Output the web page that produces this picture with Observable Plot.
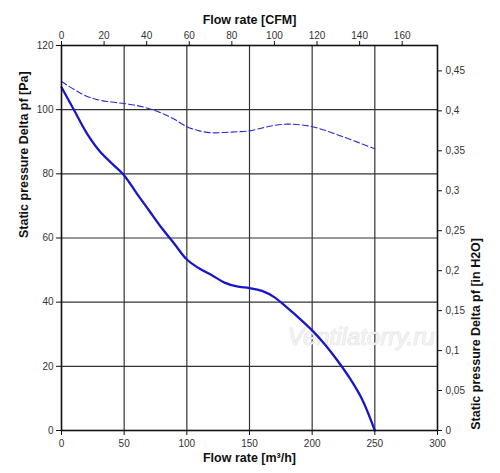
<!DOCTYPE html>
<html>
<head>
<meta charset="utf-8">
<script src="https://cdn.jsdelivr.net/npm/d3@7"></script>
<script src="https://cdn.jsdelivr.net/npm/@observablehq/plot@0.6"></script>
<style>
  html, body { margin: 0; padding: 0; background: #fff; }
</style>
</head>
<body>
<div id="chart"></div>
<script>
// Flow rate samples [m³/h]
const flow = [0,10,20,30,40,50,60,70,80,90,100,110,120,130,140,150,160,170,180,190,200,210,220,230,240,250];
// Solid curve: static pressure [Pa]
const solidPa = [107.0,99.9,92.8,87.3,83.3,79.5,73.9,68.5,63.1,58.2,53.3,50.5,48.4,46.1,44.9,44.4,43.5,41.5,38.3,34.9,31.2,26.9,21.9,16.3,9.6,0];
// Dashed curve: static pressure [Pa]
const dashedPa = [108.8,106.3,104.2,103.0,102.4,101.9,101.3,100.3,98.9,97.0,94.7,93.4,92.8,92.9,93.1,93.4,94.3,95.1,95.5,95.3,94.7,93.6,92.2,90.8,89.3,87.8];

// Tick labels
const xTicks = [0,50,100,150,200,250,300];        // m³/h
const yTicks = [0,20,40,60,80,100,120];           // Pa
const cfmTicks = [0,20,40,60,80,100,120,140,160]; // CFM
const inH2OTicks = [0,0.05,0.1,0.15,0.2,0.25,0.3,0.35,0.4,0.45]; // in H2O
const gridXValues = [50,100,150,200,250];
const gridYValues = [20,40,60,80,100];

// Unit conversions
const CFM_PER_M3H = 0.58858;
const INH2O_PER_PA = 0.0040146;

const solidData = flow.map((f, i) => ({f, p: solidPa[i]}));
const dashedData = flow.map((f, i) => ({f, p: dashedPa[i]}));

const font = "'Liberation Sans', Arial, Helvetica, sans-serif";

const chart = Plot.plot({
  width: 500,
  height: 473,
  marginLeft: 61,
  marginRight: 63,
  marginTop: 45,
  marginBottom: 43,
  style: {fontFamily: font, fontSize: "10px", color: "#222", background: "#fff"},
  x: {domain: [0, 300]},
  y: {domain: [0, 120]},
  marks: [
    Plot.gridX(gridXValues, {stroke: "#333", strokeOpacity: 1, strokeWidth: 1.2}),
    Plot.gridY(gridYValues, {stroke: "#333", strokeOpacity: 1, strokeWidth: 1.2}),
    Plot.text(["Ventilatorry.ru"], {
      frameAnchor: "bottom-right", textAnchor: "end", lineAnchor: "bottom",
      dx: -3, dy: -86, fontSize: 24, fontStyle: "italic",
      fill: "#f2f2f2", stroke: "#cfcfcf", strokeWidth: 0.6
    }),
    Plot.line(dashedData, {x: "f", y: "p", curve: "catmull-rom", stroke: "#2a2ad2", strokeWidth: 1.1, strokeDasharray: "6,3"}),
    Plot.line(solidData, {x: "f", y: "p", curve: "catmull-rom", stroke: "#1717c8", strokeWidth: 2.3}),
    Plot.frame({stroke: "#111", strokeWidth: 1.6}),
    Plot.axisX(xTicks, {anchor: "bottom", tickSize: 5, tickPadding: 4, label: null, stroke: "#111", fill: "#333"}),
    Plot.axisX(cfmTicks.map(c => c / CFM_PER_M3H), {
      anchor: "top", tickSize: 5, tickPadding: 2, label: null, stroke: "#111", fill: "#333",
      tickFormat: d => String(Math.round(d * CFM_PER_M3H))
    }),
    Plot.axisY(yTicks, {anchor: "left", tickSize: 5, tickPadding: 3, label: null, stroke: "#111", fill: "#333"}),
    Plot.axisY(inH2OTicks.map(v => v / INH2O_PER_PA), {
      anchor: "right", tickSize: 4, tickPadding: 4, label: null, stroke: "#111", fill: "#333",
      tickFormat: d => String(+(d * INH2O_PER_PA).toFixed(2)).replace(".", ",")
    }),
    Plot.text(["Flow rate [m³/h]"], {frameAnchor: "bottom", dy: 31, fontSize: 12.5, fontWeight: "bold", fill: "#111"}),
    Plot.text(["Flow rate [CFM]"], {frameAnchor: "top", dy: -30, fontSize: 12.5, fontWeight: "bold", fill: "#111"}),
    Plot.text(["Static pressure Delta pf [Pa]"], {frameAnchor: "left", dx: -38, rotate: -90, fontSize: 12.5, fontWeight: "bold", fill: "#111"}),
    Plot.text(["Static pressure Delta pf [in H2O]"], {frameAnchor: "right", dx: 38, rotate: -90, fontSize: 12.5, fontWeight: "bold", fill: "#111"})
  ]
});

document.getElementById("chart").appendChild(chart);
</script>
</body>
</html>
